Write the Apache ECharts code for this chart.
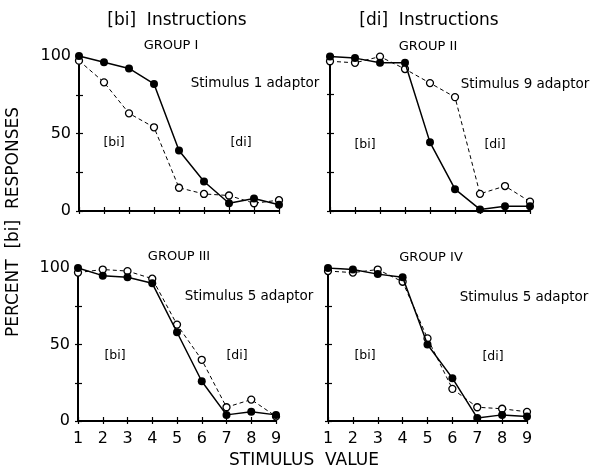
<!DOCTYPE html>
<html>
<head>
<meta charset="utf-8">
<script src="https://cdn.jsdelivr.net/npm/echarts@6/dist/echarts.min.js"></script>
<style>
html,body{margin:0;padding:0;background:#fff;}
#c{width:594px;height:470px;}
</style>
</head>
<body>
<div id="c"></div>
<script>
// ---- data ----
const stimulusValues = [1, 2, 3, 4, 5, 6, 7, 8, 9];
const yTickLabels = [0, 50, 100];
const groupNames = ['GROUP I', 'GROUP II', 'GROUP III', 'GROUP IV'];
const adaptorLabels = ['Stimulus 1 adaptor', 'Stimulus 9 adaptor', 'Stimulus 5 adaptor', 'Stimulus 5 adaptor'];
const instructionTitles = ['[bi]  Instructions', '[di]  Instructions'];
const regionLabels = ['[bi]', '[di]'];
// filled circles, solid line (unadapted)
const group1Filled = [100, 96, 92, 82, 39, 19, 5, 8, 4];
const group2Filled = [99, 98, 95, 95, 44, 14, 1, 3, 3];
const group3Filled = [100, 95, 94, 90, 58, 26, 4, 6, 4];
const group4Filled = [100, 99, 96, 94, 50, 28, 2, 4, 3];
// open circles, dashed line (after adaptation)
const group1Open = [97, 83, 63, 54, 15, 11, 10, 5, 7];
const group2Open = [96, 95, 99, 91, 82, 73, 11, 16, 6];
const group3Open = [97, 99, 98, 93, 63, 40, 9, 14, 3];
const group4Open = [98, 97, 99, 91, 54, 21, 9, 8, 6];

const filledSets = [group1Filled, group2Filled, group3Filled, group4Filled];
const openSets = [group1Open, group2Open, group3Open, group4Open];

// ---- layout / style ----
const FONT = '"DejaVu Sans", sans-serif';
const grids = [
  {left: 79, top: 56, width: 200, height: 155},
  {left: 330, top: 55, width: 200, height: 156},
  {left: 78, top: 268, width: 198, height: 153},
  {left: 328, top: 268, width: 199, height: 153}
];
const showXLabels = [false, false, true, true];
const showYLabels = [true, false, true, false];

const xAxes = [], yAxes = [], series = [];
grids.forEach((g, i) => {
  xAxes.push({
    gridIndex: i, type: 'value', min: 1, max: 9, interval: 1,
    axisLine: {show: true, onZero: false, lineStyle: {color: '#000', width: 2}},
    axisTick: {show: true, inside: true, length: 4, lineStyle: {color: '#000', width: 1.2}},
    axisLabel: {show: showXLabels[i], color: '#000', fontSize: 16, fontFamily: FONT, margin: 10},
    splitLine: {show: false}
  });
  yAxes.push({
    gridIndex: i, type: 'value', min: 0, max: 100, interval: 25,
    axisLine: {show: true, onZero: false, lineStyle: {color: '#000', width: 2}},
    axisTick: {show: true, inside: true, length: 4, lineStyle: {color: '#000', width: 1.2}},
    axisLabel: {
      show: showYLabels[i], color: '#000', fontSize: 16, fontFamily: FONT, margin: 8,
      formatter: v => (yTickLabels.indexOf(v) >= 0 ? String(v) : '')
    },
    splitLine: {show: false}
  });
});
// outward tick halves (ticks cross the axis line)
grids.forEach((g, i) => {
  xAxes.push({
    gridIndex: i, type: 'value', min: 1, max: 9, interval: 1, position: 'bottom',
    axisLine: {show: false}, axisLabel: {show: false}, splitLine: {show: false},
    axisTick: {show: true, inside: false, length: 3, lineStyle: {color: '#000', width: 1.2}}
  });
  yAxes.push({
    gridIndex: i, type: 'value', min: 0, max: 100, interval: 25, position: 'left',
    axisLine: {show: false}, axisLabel: {show: false}, splitLine: {show: false},
    axisTick: {show: true, inside: false, length: 3, lineStyle: {color: '#000', width: 1.2}}
  });
});

grids.forEach((g, i) => {
  series.push({
    type: 'line', xAxisIndex: i, yAxisIndex: i, z: 3,
    data: stimulusValues.map((x, k) => [x, openSets[i][k]]),
    symbol: 'circle', symbolSize: 7,
    lineStyle: {color: '#000', width: 1, type: [4, 3]},
    itemStyle: {color: '#fff', borderColor: '#000', borderWidth: 1.3}
  });
  series.push({
    type: 'line', xAxisIndex: i, yAxisIndex: i, z: 4,
    data: stimulusValues.map((x, k) => [x, filledSets[i][k]]),
    symbol: 'circle', symbolSize: 8,
    lineStyle: {color: '#000', width: 1.5},
    itemStyle: {color: '#000', borderColor: '#000', borderWidth: 0}
  });
});

function txt(text, x, y, size, rot) {
  return {
    type: 'text', x: x, y: y, rotation: rot || 0, z: 10,
    style: {text: text, fill: '#000', font: size + 'px ' + FONT,
            align: 'center', verticalAlign: 'middle',
            textAlign: 'center', textVerticalAlign: 'middle'}
  };
}
const groupPos = [[171, 46], [428, 47], [179, 257], [431, 258]];
const adaptPos = [[255, 83], [525, 84], [249, 296], [524, 297]];
const biPos = [[114, 143], [365, 145], [115, 356], [365, 356]];
const diPos = [[241, 143], [495, 145], [237, 356], [493, 357]];
const graphics = [
  txt(instructionTitles[0], 177, 21, 17),
  txt(instructionTitles[1], 429, 21, 17),
  txt('PERCENT  [bi]  RESPONSES', 14, 222, 17, Math.PI / 2),
  txt('STIMULUS  VALUE', 304, 461, 17)
];
for (let i = 0; i < 4; i++) {
  graphics.push(txt(groupNames[i], groupPos[i][0], groupPos[i][1], 13));
  graphics.push(txt(adaptorLabels[i], adaptPos[i][0], adaptPos[i][1], 13.5));
  graphics.push(txt(regionLabels[0], biPos[i][0], biPos[i][1], 12.5));
  graphics.push(txt(regionLabels[1], diPos[i][0], diPos[i][1], 12.5));
}

const chart = echarts.init(document.getElementById('c'), null, {renderer: 'canvas'});
chart.setOption({
  animation: false,
  backgroundColor: '#fff',
  grid: grids,
  xAxis: xAxes,
  yAxis: yAxes,
  series: series,
  graphic: graphics
});
</script>
</body>
</html>
